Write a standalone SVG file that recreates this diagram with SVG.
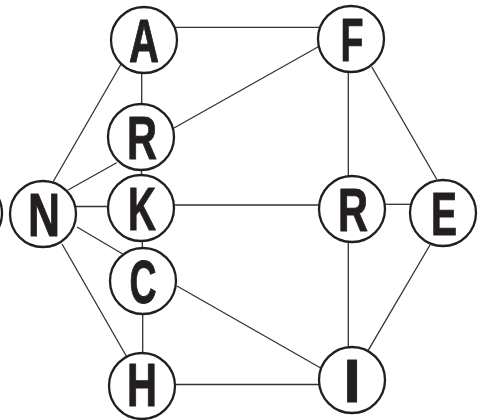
<svg xmlns="http://www.w3.org/2000/svg" width="492" height="420" viewBox="0 0 492 420">
<style>
.edge{stroke:#333;stroke-width:1.3;fill:none}
.node circle{fill:#fff;stroke:#231f20;stroke-width:2.3}
.node text{font-family:"Liberation Sans Narrow","Liberation Sans",Arial,sans-serif;font-weight:bold;font-size:62px;fill:#231f20;stroke:#231f20;stroke-width:1;stroke-linejoin:round;text-anchor:middle}
</style>
<rect width="492" height="420" fill="#fff"/>
<g id="connectors">
<line class="edge" x1="165" y1="27.3" x2="325" y2="27.3"/>
<line class="edge" x1="141.7" y1="60" x2="141.7" y2="115"/>
<line class="edge" x1="121.7" y1="63" x2="53" y2="182"/>
<line class="edge" x1="318.3" y1="46.7" x2="174" y2="128"/>
<line class="edge" x1="348.3" y1="70" x2="348.3" y2="180"/>
<line class="edge" x1="371.7" y1="66.7" x2="436.7" y2="179.3"/>
<line class="edge" x1="116.7" y1="162.7" x2="68" y2="190"/>
<line class="edge" x1="72" y1="206.5" x2="112" y2="206.5"/>
<line class="edge" x1="77" y1="227" x2="122.7" y2="254"/>
<line class="edge" x1="62" y1="244" x2="126.7" y2="356.7"/>
<line class="edge" x1="170" y1="205" x2="322" y2="205"/>
<line class="edge" x1="141.5" y1="165" x2="141.5" y2="180"/>
<line class="edge" x1="142.3" y1="236" x2="142.3" y2="252"/>
<line class="edge" x1="142.7" y1="310" x2="142.7" y2="358"/>
<line class="edge" x1="177" y1="286" x2="320.7" y2="368"/>
<line class="edge" x1="172" y1="384.5" x2="322" y2="384.5"/>
<line class="edge" x1="383" y1="204.3" x2="413" y2="204.3"/>
<line class="edge" x1="348.3" y1="238" x2="348.3" y2="350"/>
<line class="edge" x1="430" y1="245" x2="368" y2="350.7"/>
</g>
<g id="node-partial" class="node"><circle cx="-31" cy="213" r="33"/></g>
<g id="node-A" class="node"><circle cx="144" cy="40" r="33"/><text x="144" y="62" textLength="30" lengthAdjust="spacingAndGlyphs">A</text></g>
<g id="node-F" class="node"><circle cx="351" cy="39" r="33"/><text x="352" y="61" textLength="23" lengthAdjust="spacingAndGlyphs">F</text></g>
<g id="node-R1" class="node"><circle cx="141" cy="137" r="33"/><text x="142" y="159" textLength="30" lengthAdjust="spacingAndGlyphs">R</text></g>
<g id="node-N" class="node"><circle cx="43" cy="214" r="33"/><text x="44" y="236" textLength="32" lengthAdjust="spacingAndGlyphs">N</text></g>
<g id="node-K" class="node"><circle cx="141" cy="208" r="33"/><text x="142" y="230" textLength="28" lengthAdjust="spacingAndGlyphs">K</text></g>
<g id="node-R2" class="node"><circle cx="352" cy="209" r="33"/><text x="353" y="231" textLength="30" lengthAdjust="spacingAndGlyphs">R</text></g>
<g id="node-E" class="node"><circle cx="443" cy="213" r="33"/><text x="444" y="235" textLength="26" lengthAdjust="spacingAndGlyphs">E</text></g>
<g id="node-C" class="node"><circle cx="143" cy="281" r="33"/><text x="143" y="303" textLength="27" lengthAdjust="spacingAndGlyphs">C</text></g>
<g id="node-H" class="node"><circle cx="142" cy="386" r="33"/><text x="142" y="406" textLength="30" lengthAdjust="spacingAndGlyphs">H</text></g>
<g id="node-I" class="node"><circle cx="352" cy="380" r="33"/><text x="352" y="402">I</text></g>
</svg>
